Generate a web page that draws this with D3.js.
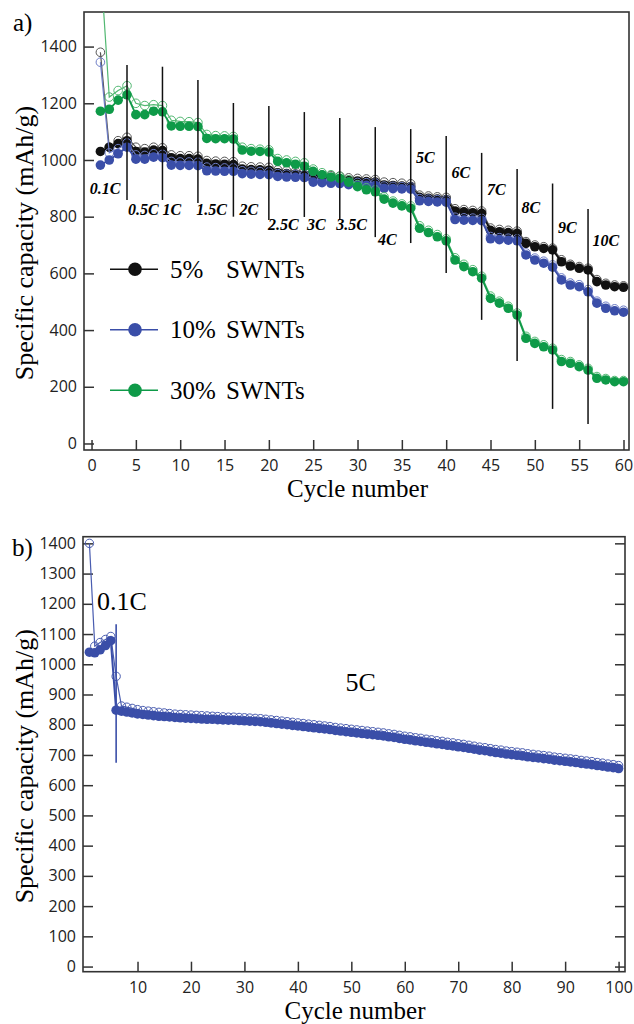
<!DOCTYPE html>
<html>
<head>
<meta charset="utf-8">
<script src="https://cdn.jsdelivr.net/npm/d3@7"></script>
<style>
  body { margin: 0; background: #fff; }
  svg { display: block; }
  .tick text { font-family: "Open Sans", sans-serif; font-size: 16px; fill: #222; }
  .tick line { stroke: #333; stroke-width: 1.5; }
</style>
</head>
<body>
<svg width="634" height="1024"></svg>
<script>
// panel a: rate capability, 60 cycles
const cyclesA = d3.range(1, 61);
const black5Discharge = [1030, 1045, 1058, 1068, 1030, 1028, 1035, 1033, 1008, 1005, 1005, 1003,
  988, 986, 985, 984, 968, 966, 965, 964, 955, 952, 950, 948, 940, 937, 935, 933,
  928, 926, 924, 922, 912, 910, 908, 906, 868, 865, 862, 860, 820, 817, 814, 812,
  752, 747, 744, 741, 706, 694, 688, 683, 641, 626, 618, 612, 571, 559, 553, 551];
const black5Charge = [1380, 1045, 1068, 1080, 1045, 1040, 1045, 1043, 1018, 1015, 1015, 1013,
  998, 996, 995, 994, 978, 976, 975, 974, 965, 962, 960, 958, 950, 947, 945, 943,
  937, 935, 933, 931, 922, 920, 918, 916, 876, 873, 870, 868, 828, 825, 822, 820,
  760, 755, 752, 749, 712, 700, 694, 689, 648, 632, 624, 618, 578, 565, 559, 556];
const blue10Discharge = [982, 1000, 1022, 1045, 1003, 1003, 1010, 1008, 982, 981, 981, 980,
  962, 961, 960, 960, 952, 950, 949, 948, 942, 940, 939, 938, 922, 920, 918, 917,
  913, 912, 911, 910, 900, 899, 898, 897, 856, 854, 852, 851, 790, 788, 787, 786,
  722, 719, 717, 715, 665, 647, 636, 622, 577, 559, 553, 535, 495, 477, 468, 463];
const blue10Charge = [1345, 1025, 1040, 1060, 1018, 1016, 1022, 1020, 995, 993, 993, 992,
  975, 973, 972, 972, 962, 960, 959, 958, 952, 950, 949, 948, 932, 930, 928, 927,
  922, 921, 920, 919, 908, 907, 906, 905, 864, 862, 860, 859, 798, 796, 795, 794,
  730, 726, 724, 722, 672, 654, 643, 630, 584, 566, 560, 543, 502, 484, 475, 470];
const green30Discharge = [1172, 1179, 1211, 1230, 1160, 1160, 1172, 1170, 1120, 1119, 1119, 1118,
  1076, 1075, 1075, 1074, 1035, 1031, 1030, 1028, 995, 990, 985, 978, 960, 948, 940, 935,
  922, 906, 895, 888, 862, 848, 838, 830, 759, 744, 729, 715, 647, 624, 606, 583,
  512, 495, 477, 453, 371, 353, 341, 330, 289, 283, 271, 259, 230, 224, 218, 218];
const green30Charge = [1700, 1222, 1245, 1262, 1200, 1192, 1195, 1192, 1140, 1136, 1135, 1132,
  1090, 1086, 1085, 1083, 1045, 1040, 1038, 1036, 1005, 1000, 995, 990, 968, 955, 948, 942,
  930, 913, 902, 895, 870, 855, 845, 838, 768, 752, 737, 722, 655, 632, 613, 590,
  520, 502, 484, 460, 378, 360, 348, 336, 296, 289, 277, 265, 236, 229, 222, 222];

// rate change markers (cycle, top and bottom capacity)
const rateCycles = [4, 8, 12, 16, 20, 24, 28, 32, 36, 40, 44, 48, 52, 56];
const rateTop = [1335, 1329, 1282, 1201, 1190, 1169, 1148, 1116, 1109, 1085, 1025, 968, 917, 827];
const rateBottom = [859, 859, 848, 800, 788, 799, 788, 728, 707, 601, 436, 291, 122, 69];
const rateLabels = ["0.1C", "0.5C", "1C", "1.5C", "2C", "2.5C", "3C", "3.5C", "4C", "5C", "6C", "7C", "8C", "9C", "10C"];
const rateLabelCycle = [-0.2, 4.1, 8.0, 11.8, 16.7, 19.9, 24.3, 27.6, 32.3, 36.6, 40.6, 44.6, 48.5, 52.6, 56.5];
const rateLabelCap = [880, 806, 806, 806, 806, 753, 753, 753, 700, 989, 936, 877, 812, 742, 698];

const xTicksA = [0, 5, 10, 15, 20, 25, 30, 35, 40, 45, 50, 55, 60];
const yTicksA = [0, 200, 400, 600, 800, 1000, 1200, 1400];
const legendNames = ["5%", "10%", "30%"];

// panel b: long cycling, 100 cycles
const cyclesB = d3.range(1, 101);
const longDischarge = [1040, 1038, 1048, 1062, 1078, 848, 845, 842, 839, 836,
  834, 832, 830, 828, 827, 826, 824, 823, 822, 821,
  820, 819, 818, 818, 817, 816, 815, 815, 814, 813,
  812, 811, 810, 808, 806, 804, 802, 800, 798, 796,
  794, 792, 790, 788, 786, 784, 781, 779, 777, 775,
  773, 771, 769, 767, 765, 763, 760, 758, 755, 752,
  750, 747, 745, 742, 740, 737, 735, 732, 730, 727,
  725, 722, 719, 716, 714, 711, 708, 706, 703, 701,
  699, 697, 694, 692, 690, 688, 686, 683, 681, 679,
  677, 675, 672, 670, 668, 665, 663, 660, 658, 655];
const longCharge = [1400, 1060, 1072, 1082, 1092, 960, 862, 858, 854, 850,
  847, 845, 843, 841, 839, 837, 835, 834, 833, 832,
  831, 830, 829, 828, 827, 826, 825, 825, 824, 823,
  822, 821, 820, 818, 816, 814, 812, 810, 808, 806,
  804, 802, 800, 798, 796, 794, 791, 789, 787, 785,
  783, 781, 779, 777, 775, 773, 770, 768, 765, 762,
  760, 757, 755, 752, 750, 747, 745, 742, 740, 737,
  735, 732, 729, 726, 724, 721, 718, 716, 713, 711,
  709, 707, 704, 702, 700, 698, 696, 693, 691, 689,
  687, 685, 682, 680, 678, 675, 673, 670, 668, 665];
const rateCycleB = 6;
const rateTopB = 1132;
const rateBottomB = 674;
const labelsB = ["0.1C", "5C"];
const labelCycleB = [2.4, 48.9];
const labelCapB = [1179, 911];

const xTicksB = [10, 20, 30, 40, 50, 60, 70, 80, 90, 100];
const yTicksB = [0, 100, 200, 300, 400, 500, 600, 700, 800, 900, 1000, 1100, 1200, 1300, 1400];

const black = "#111", blue = "#3a4ea8", green = "#0e9a48";
const serif = "'Liberation Serif', 'Times New Roman', serif";

const svg = d3.select("svg");

// draws frame, inward ticks and the titles for one panel
function drawFrame(x, y, xTicks, yTicks, rightTicks, xTitle) {
  const [x0, x1] = x.range();
  const [y0, y1] = y.range();
  const g = svg.append("g");
  g.append("g")
    .attr("transform", `translate(0, ${y0})`)
    .call(d3.axisBottom(x).tickValues(xTicks).tickFormat(d3.format("d"))
      .tickSizeInner(-10).tickSizeOuter(0).tickPadding(10))
    .call(a => a.select(".domain").remove());
  g.append("g")
    .attr("transform", `translate(${x0}, 0)`)
    .call(d3.axisLeft(y).tickValues(yTicks).tickFormat(d3.format("d"))
      .tickSizeInner(-10).tickSizeOuter(0).tickPadding(7))
    .call(a => a.select(".domain").remove());
  if (rightTicks) {
    g.append("g")
      .attr("transform", `translate(${x1}, 0)`)
      .call(d3.axisRight(y).tickValues(yTicks).tickSizeInner(-10).tickSizeOuter(0).tickFormat(""))
      .call(a => a.select(".domain").remove());
  }
  g.append("rect")
    .attr("x", x0).attr("y", y1)
    .attr("width", x1 - x0).attr("height", y0 - y1)
    .attr("fill", "none").attr("stroke", "#333").attr("stroke-width", 1.6);
  g.append("text")
    .attr("x", (x0 + x1) / 2 + 1)
    .attr("y", y0 + 47)
    .attr("text-anchor", "middle")
    .style("font-family", serif).style("font-size", "25px")
    .text(xTitle);
  g.append("text")
    .attr("transform", `translate(33, ${(y0 + y1) / 2 + 12}) rotate(-90)`)
    .attr("text-anchor", "middle")
    .style("font-family", serif).style("font-size", "26px")
    .text("Specific capacity (mAh/g)");
}

function drawSeries(g, x, y, cycles, open, filled, color, light, rFill, rOpen, wOpen, wFill) {
  const line = d3.line().x((d, i) => x(cycles[i])).y(d => y(d));
  g.append("path").attr("d", line(open))
    .attr("fill", "none").attr("stroke", light).attr("stroke-width", wOpen);
  g.selectAll(null).data(open).enter().append("circle")
    .attr("cx", (d, i) => x(cycles[i])).attr("cy", d => y(d))
    .attr("r", rOpen).attr("fill", "none").attr("stroke", light).attr("stroke-width", 1);
  g.append("path").attr("d", line(filled))
    .attr("fill", "none").attr("stroke", color).attr("stroke-width", wFill);
  g.selectAll(null).data(filled).enter().append("circle")
    .attr("cx", (d, i) => x(cycles[i])).attr("cy", d => y(d))
    .attr("r", rFill).attr("fill", color);
}

// ---------- panel a ----------
const xA = d3.scaleLinear().domain([-0.85, 60.62]).range([84, 629]);
const yA = d3.scaleLinear().domain([-23, 1522]).range([450, 12]);

svg.append("clipPath").attr("id", "clipA")
  .append("rect").attr("x", 84).attr("y", 12).attr("width", 545).attr("height", 438);

drawFrame(xA, yA, xTicksA, yTicksA, false, "Cycle number");

const plotA = svg.append("g").attr("clip-path", "url(#clipA)");
drawSeries(plotA, xA, yA, cyclesA, black5Charge, black5Discharge, black, "#555", 4.8, 4.3, 1.2, 1.8);
drawSeries(plotA, xA, yA, cyclesA, blue10Charge, blue10Discharge, blue, "#6c7cc6", 4.8, 4.3, 1.2, 1.8);
drawSeries(plotA, xA, yA, cyclesA, green30Charge, green30Discharge, green, "#52b872", 4.8, 4.3, 1.2, 1.8);

plotA.selectAll(".rate").data(rateCycles).enter().append("line")
  .attr("x1", d => xA(d)).attr("x2", d => xA(d))
  .attr("y1", (d, i) => yA(rateTop[i])).attr("y2", (d, i) => yA(rateBottom[i]))
  .attr("stroke", "#111").attr("stroke-width", 1.5);

svg.selectAll(".ratelabel").data(rateLabels).enter().append("text")
  .attr("x", (d, i) => xA(rateLabelCycle[i]))
  .attr("y", (d, i) => yA(rateLabelCap[i]))
  .style("font-family", serif).style("font-size", "16px")
  .style("font-weight", "bold").style("font-style", "italic")
  .text(d => d);

// legend
const legColors = [black, blue, green];
const legend = svg.append("g");
legColors.forEach((c, i) => {
  const ly = 269.3 + i * 60.5;
  legend.append("line").attr("x1", 110).attr("x2", 158).attr("y1", ly).attr("y2", ly)
    .attr("stroke", c).attr("stroke-width", 1.5);
  legend.append("circle").attr("cx", 135).attr("cy", ly).attr("r", 6.8).attr("fill", c);
  const t = legend.append("text").attr("y", ly + 8.5)
    .style("font-family", serif).style("font-size", "25px");
  t.append("tspan").attr("x", 170).text(legendNames[i]);
  t.append("tspan").attr("x", 226).text("SWNTs");
});

svg.append("text").attr("x", 13).attr("y", 31)
  .style("font-family", serif).style("font-size", "25px").text("a)");

// ---------- panel b ----------
const xB = d3.scaleLinear().domain([-0.2, 101.2]).range([83, 625]);
const yB = d3.scaleLinear().domain([-17, 1422]).range([971.7, 536.7]);

drawFrame(xB, yB, xTicksB, yTicksB, true, "Cycle number");

const plotB = svg.append("g");
drawSeries(plotB, xB, yB, cyclesB, longCharge, longDischarge, blue, "#4a5db0", 4.8, 4.2, 1.2, 2);

plotB.append("line")
  .attr("x1", xB(rateCycleB)).attr("x2", xB(rateCycleB))
  .attr("y1", yB(rateTopB)).attr("y2", yB(rateBottomB))
  .attr("stroke", blue).attr("stroke-width", 1.6);

svg.selectAll(".labelb").data(labelsB).enter().append("text")
  .attr("x", (d, i) => xB(labelCycleB[i]))
  .attr("y", (d, i) => yB(labelCapB[i]))
  .style("font-family", serif).style("font-size", "26px")
  .text(d => d);

svg.append("text").attr("x", 12).attr("y", 556)
  .style("font-family", serif).style("font-size", "25px").text("b)");
</script>
</body>
</html>
